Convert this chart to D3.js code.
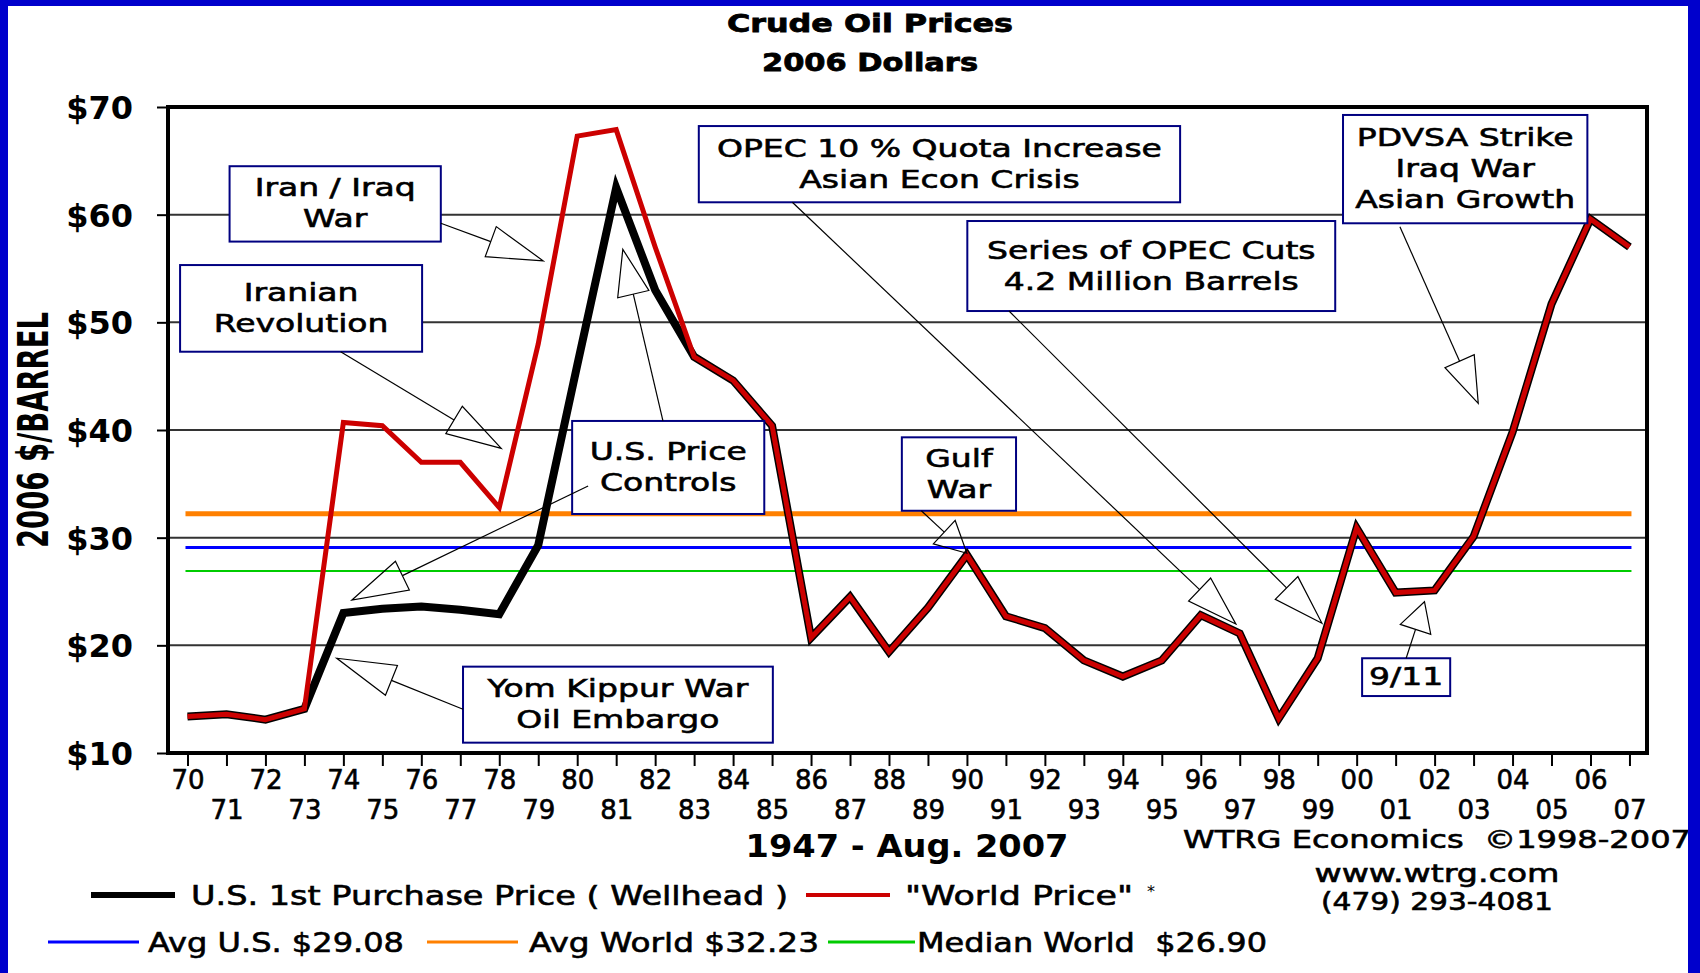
<!DOCTYPE html>
<html>
<head>
<meta charset="utf-8">
<script src="https://cdn.jsdelivr.net/npm/d3@7"></script>
<style>
    body { margin: 0; background: #fff; }
    svg { display: block; }
    text { font-family: "DejaVu Sans", Verdana, sans-serif; fill: #000; white-space: pre; }
    .heavy { stroke: #000; stroke-width: 0.6px; }
    .heavier { stroke: #000; stroke-width: 0.8px; }
</style>
</head>
<body>
<div id="chart"></div>
<script>

// values (2006 dollars)
const years = [1970, 1971, 1972, 1973, 1974, 1975, 1976, 1977, 1978, 1979,
    1980, 1981, 1982, 1983, 1984, 1985, 1986, 1987, 1988, 1989,
    1990, 1991, 1992, 1993, 1994, 1995, 1996, 1997, 1998, 1999,
    2000, 2001, 2002, 2003, 2004, 2005, 2006, 2007];

const worldPrice = [13.4, 13.6, 13.1, 14.1, 40.7, 40.4, 37.0, 37.0, 32.8, 48.0,
    67.3, 67.9, 57.0, 46.8, 44.6, 40.4, 20.7, 24.5, 19.4, 23.5,
    28.4, 22.7, 21.6, 18.6, 17.1, 18.6, 22.8, 21.1, 13.2, 18.8,
    30.9, 24.9, 25.1, 30.1, 39.8, 51.7, 59.6, 57.0];

const usPrice = [13.4, 13.6, 13.1, 14.1, 23.0, 23.4, 23.6, 23.3, 22.9, 29.3,
    46.0, 62.5, 53.0, 46.8, 44.6, 40.4, 20.7, 24.5, 19.4, 23.5,
    28.4, 22.7, 21.6, 18.6, 17.1, 18.6, 22.8, 21.1, 13.2, 18.8,
    30.9, 24.9, 25.1, 30.1, 39.8, 51.7, 59.6, 57.0];

const priceTicks = [10, 20, 30, 40, 50, 60, 70];

const refNames = ["Avg U.S. $29.08", "Avg World $32.23", "Median World  $26.90"];
const refValues = [29.08, 32.23, 26.90];

const annotationText = [
    ["Iran / Iraq", "War"],
    ["Iranian", "Revolution"],
    ["U.S. Price", "Controls"],
    ["Yom Kippur War", "Oil Embargo"],
    ["OPEC 10 % Quota Increase", "Asian Econ Crisis"],
    ["Series of OPEC Cuts", "4.2 Million Barrels"],
    ["Gulf", "War"],
    ["9/11"],
    ["PDVSA Strike", "Iraq War", "Asian Growth"]
];


class OilVis {

    constructor(parentElement) {
        this.parentElement = parentElement;
        this.initVis();
    }

    initVis() {
        let vis = this;

        vis.width = 1700;
        vis.height = 973;

        vis.svg = d3.select("#" + vis.parentElement).append("svg")
            .attr("width", vis.width)
            .attr("height", vis.height);

        vis.svg.append("rect")
            .attr("width", vis.width)
            .attr("height", vis.height)
            .attr("fill", "#fff");

        vis.x = d3.scaleLinear().domain([1969.5, 2007.45]).range([168, 1647]);
        vis.y = d3.scaleLinear().domain([10, 70]).range([753, 107]);

        vis.worldData = years.map((yr, i) => ({year: yr, value: worldPrice[i]}));
        vis.usData = years.map((yr, i) => ({year: yr, value: usPrice[i]}));

        // box corners, arrow start / tip, in data units; head = arrow head length px
        vis.layout = [
            {box: [1971.08, 64.5, 1976.5, 57.5], arrows: [{from: [1976.5, 59.2], to: [1979.13, 55.7], head: 56}]},
            {box: [1969.81, 55.32, 1976.02, 47.27], arrows: [{from: [1973.93, 47.27], to: [1978.05, 38.3], head: 55}]},
            {box: [1979.87, 40.84, 1984.8, 32.2], arrows: [
                {from: [1982.2, 40.84], to: [1981.17, 56.78], head: 46},
                {from: [1980.28, 34.8], to: [1974.22, 24.21], head: 56}]},
            {box: [1977.07, 18.02, 1985.02, 10.96], arrows: [{from: [1977.07, 14.06], to: [1973.83, 18.8], head: 59}]},
            {box: [1983.12, 68.23, 1995.47, 61.15], arrows: [{from: [1985.52, 61.15], to: [1996.9, 21.98], head: 50}]},
            {box: [1990.01, 59.41, 1999.45, 51.05], arrows: [{from: [1991.08, 51.05], to: [1999.11, 22.05], head: 50}]},
            {box: [1988.33, 39.32, 1991.26, 32.5], arrows: [{from: [1988.83, 32.5], to: [1990.0, 28.55], head: 31}]},
            {box: [2000.14, 18.8, 2002.4, 15.29], arrows: [{from: [2001.27, 18.8], to: [2001.74, 24.05], head: 29}]},
            {box: [1999.65, 69.26, 2005.92, 59.2], arrows: [{from: [2001.11, 58.88], to: [2003.12, 42.48], head: 46}]}
        ];

        vis.updateVis();
    }

    updateVis() {
        let vis = this;

        // horizontal grid
        vis.svg.append("g").selectAll(".grid")
            .data(priceTicks.slice(1, -1))
            .enter().append("line")
            .attr("class", "grid")
            .attr("x1", vis.x.range()[0]).attr("x2", vis.x.range()[1])
            .attr("y1", d => vis.y(d)).attr("y2", d => vis.y(d))
            .attr("stroke", "#333").attr("stroke-width", 2);

        // average / median lines
        let refColors = ["#0000ff", "#ff8000", "#00cc00"];
        let refWidths = [3, 5, 2];
        vis.svg.append("g").selectAll(".ref")
            .data(refValues)
            .enter().append("line")
            .attr("class", "ref")
            .attr("x1", vis.x(years[0]) - 2).attr("x2", vis.x(years[years.length - 1]) + 2)
            .attr("y1", d => vis.y(d)).attr("y2", d => vis.y(d))
            .attr("stroke", (d, i) => refColors[i])
            .attr("stroke-width", (d, i) => refWidths[i]);

        // price lines
        let line = d3.line().x(d => vis.x(d.year)).y(d => vis.y(d.value));

        vis.svg.append("path")
            .datum(vis.usData)
            .attr("d", line)
            .attr("fill", "none").attr("stroke", "#000").attr("stroke-width", 8);

        vis.svg.append("path")
            .datum(vis.worldData)
            .attr("d", line)
            .attr("fill", "none").attr("stroke", "#cc0000").attr("stroke-width", 5);

        // frame
        vis.svg.append("rect")
            .attr("x", vis.x.range()[0]).attr("y", vis.y.range()[1])
            .attr("width", vis.x.range()[1] - vis.x.range()[0])
            .attr("height", vis.y.range()[0] - vis.y.range()[1])
            .attr("fill", "none").attr("stroke", "#000").attr("stroke-width", 4);

        // y axis
        let yAxis = vis.svg.append("g")
            .attr("transform", `translate(${vis.x.range()[0]},0)`)
            .call(d3.axisLeft(vis.y).tickValues(priceTicks).tickSize(11).tickPadding(24)
                .tickFormat(d => "$" + d));
        yAxis.select(".domain").remove();
        yAxis.selectAll("line").attr("stroke", "#000").attr("stroke-width", 2);
        yAxis.selectAll("text")
            .attr("font-family", "DejaVu Sans").attr("font-weight", "bold")
            .attr("font-size", 32).attr("dy", "0.36em");

        // x axis, even years on first row, odd years below
        let xAxis = vis.svg.append("g")
            .attr("transform", `translate(0,${vis.y.range()[0]})`)
            .call(d3.axisBottom(vis.x).tickValues(years).tickSize(13)
                .tickFormat(d => String(d).slice(2)));
        xAxis.select(".domain").remove();
        xAxis.selectAll("line").attr("stroke", "#000").attr("stroke-width", 2);
        xAxis.selectAll("text")
            .attr("class", "heavy")
            .attr("font-family", "DejaVu Sans")
            .attr("font-size", 26)
            .attr("dy", 0)
            .attr("y", d => d % 2 === 0 ? 36 : 66);

        // titles
        vis.addText("Crude Oil Prices", 870, 32, 25, "bold", "middle", 286).attr("class", "heavier");
        vis.addText("2006 Dollars", 870, 71, 25, "bold", "middle", 216).attr("class", "heavier");
        vis.addText("1947 - Aug. 2007", 907, 857, 32, "bold", "middle", 323);

        vis.svg.append("text")
            .attr("transform", "translate(48,430) rotate(-90)")
            .attr("text-anchor", "middle")
            .attr("font-size", 42).attr("font-weight", "bold")
            .attr("textLength", 236).attr("lengthAdjust", "spacingAndGlyphs")
            .text("2006 $/BARREL");

        // credits
        vis.addText("WTRG Economics  \u00a91998-2007", 1437, 848, 24, "normal", "middle", 508).attr("class", "heavy");
        vis.addText("www.wtrg.com", 1437, 882, 24, "normal", "middle", 245).attr("class", "heavy");
        vis.addText("(479) 293-4081", 1437, 910, 24, "normal", "middle", 232).attr("class", "heavy");

        vis.drawAnnotations();
        vis.drawLegend();

        // blue slide border
        let border = vis.svg.append("g").attr("fill", "#0000cc");
        border.append("rect").attr("x", 0).attr("y", 0).attr("width", 8).attr("height", vis.height);
        border.append("rect").attr("x", 0).attr("y", 0).attr("width", vis.width).attr("height", 6);
        border.append("rect").attr("x", 1688).attr("y", 0).attr("width", 12).attr("height", vis.height);
    }

    addText(str, x, y, size, weight, anchor, len) {
        let vis = this;
        let t = vis.svg.append("text")
            .attr("x", x).attr("y", y)
            .attr("font-size", size).attr("font-weight", weight)
            .attr("text-anchor", anchor)
            .text(str);
        if (len) t.attr("textLength", len).attr("lengthAdjust", "spacingAndGlyphs");
        return t;
    }

    drawAnnotations() {
        let vis = this;
        let g = vis.svg.append("g");
        let lh = 31;

        vis.layout.forEach((a, i) => {
            let x0 = vis.x(a.box[0]), y0 = vis.y(a.box[1]);
            let x1 = vis.x(a.box[2]), y1 = vis.y(a.box[3]);

            g.append("rect")
                .attr("x", x0).attr("y", y0)
                .attr("width", x1 - x0).attr("height", y1 - y0)
                .attr("fill", "#fff").attr("stroke", "#000080").attr("stroke-width", 2);

            let lines = annotationText[i];
            let cy = (y0 + y1) / 2;
            lines.forEach((s, j) => {
                let t = g.append("text")
                    .attr("class", "heavy")
                    .attr("x", (x0 + x1) / 2)
                    .attr("y", cy + (j - (lines.length - 1) / 2) * lh + 8)
                    .attr("text-anchor", "middle")
                    .attr("font-size", 25)
                    .text(s);
                let w = t.node().getComputedTextLength();
                t.attr("textLength", w * 1.32).attr("lengthAdjust", "spacingAndGlyphs");
            });

            a.arrows.forEach(ar => {
                let sx = vis.x(ar.from[0]), sy = vis.y(ar.from[1]);
                let tx = vis.x(ar.to[0]), ty = vis.y(ar.to[1]);
                let dx = tx - sx, dy = ty - sy;
                let len = Math.sqrt(dx * dx + dy * dy);
                let ux = dx / len, uy = dy / len;
                let bx = tx - ux * ar.head, by = ty - uy * ar.head;
                let hw = 16;

                g.append("line")
                    .attr("x1", sx).attr("y1", sy).attr("x2", bx).attr("y2", by)
                    .attr("stroke", "#000").attr("stroke-width", 1.2);
                g.append("polygon")
                    .attr("points", [[tx, ty], [bx - uy * hw, by + ux * hw], [bx + uy * hw, by - ux * hw]]
                        .map(p => p.join(",")).join(" "))
                    .attr("fill", "none").attr("stroke", "#000").attr("stroke-width", 1.2);
            });
        });
    }

    drawLegend() {
        let vis = this;
        let g = vis.svg.append("g");

        let sample = (x1, x2, y, color, w) => g.append("line")
            .attr("x1", x1).attr("x2", x2).attr("y1", y).attr("y2", y)
            .attr("stroke", color).attr("stroke-width", w);

        let label = (str, x, y, len) => g.append("text")
            .attr("class", "heavy")
            .attr("x", x).attr("y", y)
            .attr("font-size", 27)
            .attr("textLength", len).attr("lengthAdjust", "spacingAndGlyphs")
            .text(str);

        sample(91, 175, 895, "#000", 6);
        label("U.S. 1st Purchase Price ( Wellhead )", 191, 905, 597);
        sample(806, 890, 895, "#cc0000", 4);
        label("\"World Price\"", 905, 905, 228);
        g.append("text").attr("x", 1147).attr("y", 897).attr("font-size", 16).text("*");

        let refColors = ["#0000ff", "#ff8000", "#00cc00"];
        let sx = [[48, 139], [427, 518], [828, 915]];
        let tx = [148, 529, 917];
        let tl = [256, 290, 350];
        refNames.forEach((n, i) => {
            sample(sx[i][0], sx[i][1], 942, refColors[i], 3);
            label(n, tx[i], 952, tl[i]);
        });
    }
}

new OilVis("chart");
</script>
</body>
</html>
